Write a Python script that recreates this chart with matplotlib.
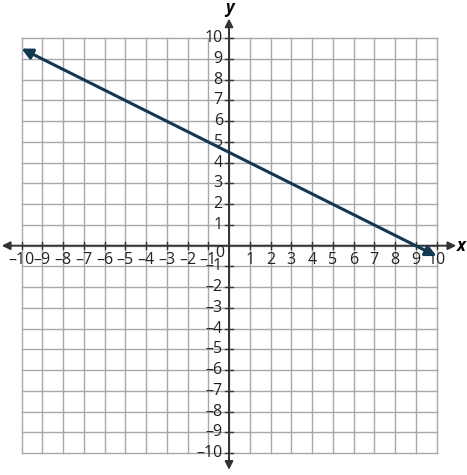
import numpy as np
import matplotlib
matplotlib.use('Agg')
from matplotlib import pyplot as plt

# data
ticks = list(range(-10, 11))
line_x = [-10, 10]
line_y = [9.5, -0.5]

plt.rcParams['font.family'] = ['Open Sans', 'DejaVu Sans']

fig = plt.figure(figsize=(4.67, 4.75), dpi=100)
ax = fig.add_axes([0, 0, 1, 1])
ppu = 20.75
x0, y0 = 229.0, 245.7
ax.set_xlim(-x0 / ppu, (467 - x0) / ppu)
ax.set_ylim(-(475 - y0) / ppu, y0 / ppu)
ax.axis('off')

grid_c = '#a8a8a8'
axis_c = '#333333'
for t in ticks:
    ax.plot([t, t], [-10, 10], color=grid_c, lw=1.0, zorder=1)
    ax.plot([-10, 10], [t, t], color=grid_c, lw=1.0, zorder=1)

# axes with arrows
ax.annotate('', xy=(10.95, 0), xytext=(-10.95, 0),
            arrowprops=dict(arrowstyle='<|-|>', color=axis_c, lw=1.4,
                            mutation_scale=12, shrinkA=0, shrinkB=0), zorder=2)
ax.annotate('', xy=(0, 10.95), xytext=(0, -10.8),
            arrowprops=dict(arrowstyle='<|-|>', color=axis_c, lw=1.4,
                            mutation_scale=12, shrinkA=0, shrinkB=0), zorder=2)
ax.text(11.2, 0, 'x', fontsize=12, fontweight='bold', fontstyle='italic',
        ha='center', va='center')
ax.text(0, 11.45, 'y', fontsize=12, fontweight='bold', fontstyle='italic',
        ha='center', va='center')

tl = 0.18
fs = 11.5
for t in ticks:
    if t == 0:
        continue
    ax.plot([t, t], [-tl, tl], color=axis_c, lw=1, zorder=2)
    ax.plot([-tl, tl], [t, t], color=axis_c, lw=1, zorder=2)
    lab = str(t).replace('-', '\u2013')
    ax.text(t, -0.7, lab, fontsize=fs, ha='center', va='center', color='#222222')
    ax.text(-0.3, t, lab, fontsize=fs, ha='right', va='center', color='#222222')
ax.text(-0.2, -0.35, '0', fontsize=fs, ha='right', va='center', color='#222222')

# the line
ax.annotate('', xy=(line_x[0], line_y[0]), xytext=(line_x[1], line_y[1]),
            arrowprops=dict(arrowstyle='<|-|>', color='#0f3a50', lw=2.2,
                            mutation_scale=16, shrinkA=0, shrinkB=0), zorder=3)

fig.savefig('out.png', dpi=100)
